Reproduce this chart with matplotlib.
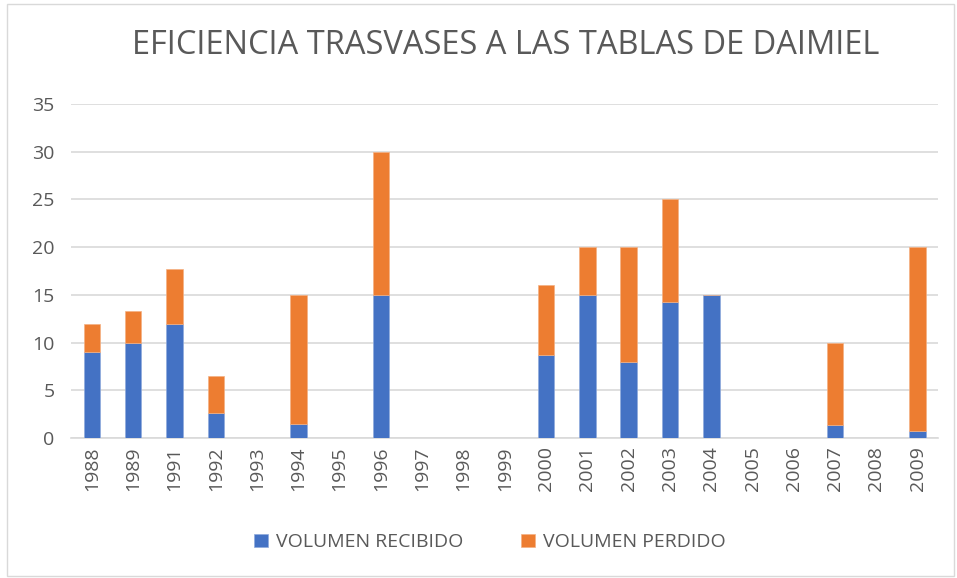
import numpy as np
import matplotlib.pyplot as plt
from matplotlib.patches import Rectangle

# datos
years = ['1988', '1989', '1991', '1992', '1993', '1994', '1995', '1996', '1997', '1998',
         '1999', '2000', '2001', '2002', '2003', '2004', '2005', '2006', '2007', '2008', '2009']
recibido = [9.0, 10.0, 12.0, 2.6, 0, 1.5, 0, 15.0, 0, 0,
            0, 8.7, 15.0, 8.0, 14.3, 15.0, 0, 0, 1.4, 0, 0.7]
perdido = [3.0, 3.3, 5.7, 3.9, 0, 13.5, 0, 15.0, 0, 0,
           0, 7.3, 5.0, 12.0, 10.7, 0, 0, 0, 8.6, 0, 19.3]

blue = '#4472C4'
orange = '#ED7D31'
grey = '#595959'
grid = '#D9D9D9'

plt.rcParams['font.family'] = ['Open Sans', 'DejaVu Sans']

fig = plt.figure(figsize=(9.57, 5.78), dpi=100)
ax = fig.add_axes([0.0745, 0.242, 0.906, 0.578])

x = np.arange(len(years))
w = 0.40
ax.bar(x, recibido, w, color=blue, edgecolor='#8FAADC', linewidth=0.5,
       label='VOLUMEN RECIBIDO', zorder=3)
ax.bar(x, perdido, w, bottom=recibido, color=orange, edgecolor='#F4B183', linewidth=0.5,
       label='VOLUMEN PERDIDO', zorder=3)

ax.set_ylim(0, 35)
ax.set_xlim(-0.5, len(years) - 0.5)
ax.set_yticks(np.arange(0, 36, 5))
ax.set_xticks(x)
ax.set_xticklabels(years, rotation=90)
ax.tick_params(length=0, colors=grey, labelsize=14)
ax.tick_params(axis='y', pad=12)
ax.tick_params(axis='x', pad=6)
ax.yaxis.grid(True, color=grid, linewidth=1.2, zorder=0)
for s in ['top', 'right', 'left']:
    ax.spines[s].set_visible(False)
ax.spines['bottom'].set_color(grid)
ax.spines['bottom'].set_linewidth(1.2)

fig.text(0.528, 0.922, 'EFICIENCIA TRASVASES A LAS TABLAS DE DAIMIEL',
         ha='center', va='center', fontsize=23.5, color=grey)

leg = fig.legend(loc='center', bbox_to_anchor=(0.512, 0.062), ncol=2, frameon=False,
                 fontsize=14, handlelength=0.7, handleheight=0.7, columnspacing=3,
                 handletextpad=0.4)
for t in leg.get_texts():
    t.set_color(grey)

fig.patches.append(Rectangle((0.007, 0.003), 0.99, 0.99, transform=fig.transFigure,
                             fill=False, edgecolor='#D9D9D9', linewidth=1))

fig.savefig('out.png', dpi=100)
